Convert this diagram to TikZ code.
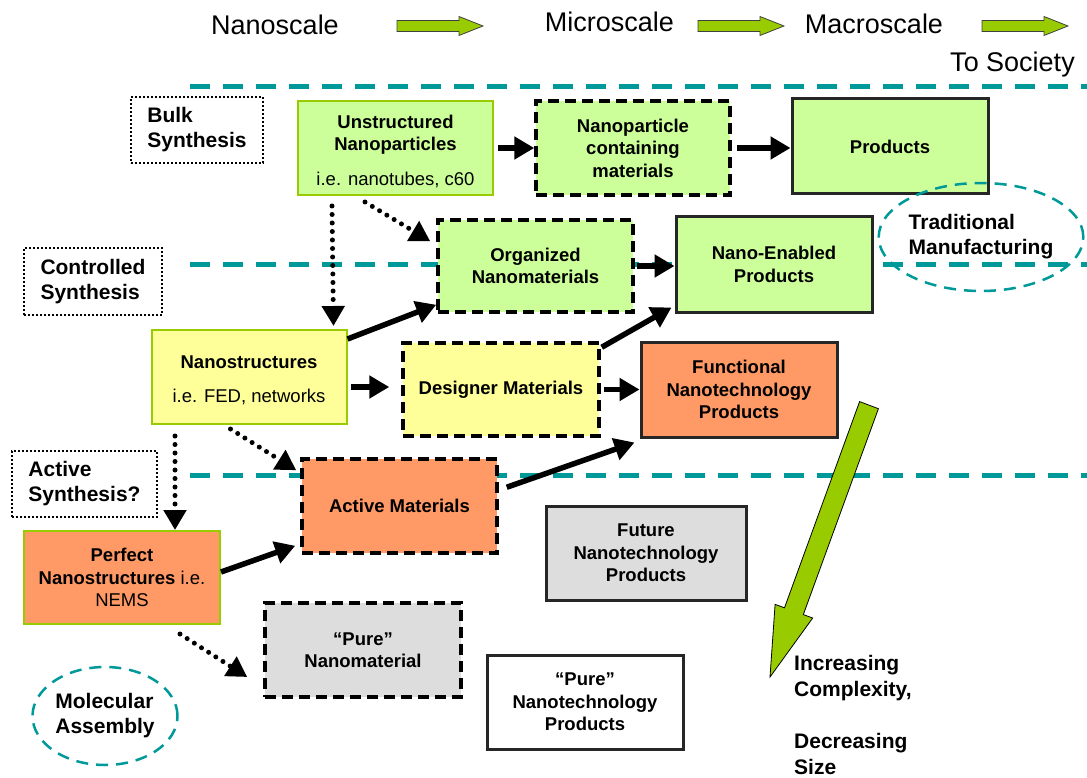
\documentclass[tikz,border=0pt]{standalone}
\usepackage{fontspec}
\setmainfont{Liberation Sans}
\usetikzlibrary{arrows.meta,shapes.geometric,calc}
\definecolor{lgreen}{HTML}{CCFF99}
\definecolor{lyellow}{HTML}{FFFF99}
\definecolor{lorange}{HTML}{FF9966}
\definecolor{lgrey}{HTML}{DDDDDD}
\definecolor{ygreen}{HTML}{99CC00}
\definecolor{tealc}{HTML}{009999}
\begin{document}
\begin{tikzpicture}[x=1pt,y=-1pt,
  boxbase/.style={rectangle, minimum width=195pt, minimum height=94pt, inner sep=2pt, align=center, font=\fontsize{18.5}{22.5}\selectfont\bfseries},
  gbox/.style={boxbase, draw=ygreen, line width=2pt},
  dbox/.style={boxbase, draw=black, line width=3.5pt, dash pattern=on 11pt off 6pt},
  sbox/.style={boxbase, draw=black!85, line width=3pt},
  synbox/.style={rectangle, draw=black, line width=1.6pt, dash pattern=on 1.6pt off 2.4pt, align=left, inner sep=0pt, font=\fontsize{21}{25}\selectfont\bfseries},
  tealsep/.style={draw=tealc, line width=5pt, dash pattern=on 20pt off 13pt},
  tealell/.style={ellipse, draw=tealc, line width=2.5pt, dash pattern=on 12pt off 8pt, align=left, inner sep=0pt, font=\fontsize{21}{25}\selectfont\bfseries},
  solidarrow/.style={line width=5.5pt, -{Triangle[length=20pt,width=22pt]}},
  dotarrow/.style={line width=5pt, line cap=round, dash pattern=on 0pt off 8.5pt, -{Triangle[length=20pt,width=22pt]}},
  scalelbl/.style={anchor=base, inner sep=0pt, font=\fontsize{27}{30}\selectfont},
  blockarrow/.pic={\draw[fill=ygreen, draw=black!75, line width=0.8pt] (0,-5.5) -- (62,-5.5) -- (62,-9.5) -- (86,0) -- (62,9.5) -- (62,5.5) -- (0,5.5) -- cycle;}
]
\useasboundingbox (0,0) rectangle (1087,778);

% scale labels
\node[scalelbl] (nano) at (275,35) {Nanoscale};
\node[scalelbl] (micro) at (609.5,32) {Microscale};
\node[scalelbl] (macro) at (874,33.5) {Macroscale};
\node[scalelbl] (soc) at (1012.5,72) {To Society};
\pic at (397,26) {blockarrow};
\pic at (698,26) {blockarrow};
\pic at (982,26) {blockarrow};

% teal separators
\draw[tealsep] (190,87) -- (1087,87);
\draw[tealsep] (190,264) -- (1087,264);
\draw[tealsep] (190,475) -- (1087,475);

% synthesis labels
\node[synbox, minimum width=132pt, minimum height=66pt] (bulk) at (197,130) {Bulk\\Synthesis};
\node[synbox, minimum width=138pt, minimum height=67pt] (ctrl) at (93,281.5) {Controlled\\Synthesis};
\node[synbox, minimum width=145pt, minimum height=66pt] (actsyn) at (84.5,484) {Active\\Synthesis?};

% boxes
\node[gbox, fill=lgreen] (unstr) at (395.5,148) {\rule{0pt}{20pt}Unstructured\\Nanoparticles\\[12.5pt]{\mdseries i.e. nanotubes, c60}};
\node[dbox, fill=lgreen, minimum width=194pt] (npcm) at (633,148) {Nanoparticle\\containing\\materials};
\node[sbox, fill=lgreen, minimum width=196pt, minimum height=95pt] (prod) at (890,146.5) {Products};
\node[dbox, fill=lgreen, minimum height=92pt] (org) at (535.5,266) {Organized\\Nanomaterials};
\node[sbox, fill=lgreen, minimum width=196pt, minimum height=95pt] (nep) at (774,264.5) {Nano-Enabled\\Products};
\node[gbox, fill=lyellow] (nanos) at (249,377) {\rule{0pt}{20pt}Nanostructures\\[11.5pt]{\mdseries i.e. FED, networks}};
\node[dbox, fill=lyellow, minimum width=196pt, minimum height=93pt] (design) at (501,389.5) {Designer Materials};
\node[sbox, fill=lorange, minimum width=196pt, minimum height=95pt] (func) at (739,389.5) {Functional\\Nanotechnology\\Products};
\node[dbox, fill=lorange] (active) at (399.5,506) {Active Materials};
\node[gbox, fill=lorange, minimum width=196pt, minimum height=93pt] (perfect) at (122,577.5) {Perfect\\Nanostructures {\mdseries i.e.}\\{\mdseries NEMS}};
\node[sbox, fill=lgrey, minimum width=200pt] (future) at (646,553) {Future\\Nanotechnology\\Products};
\node[dbox, fill=lgrey, minimum width=196pt] (purenm) at (363,650) {“Pure”\\Nanomaterial};
\node[sbox, fill=white, minimum width=196pt] (purenp) at (585,702) {“Pure”\\Nanotechnology\\Products};

% ellipses
\node[tealell, minimum width=202pt, minimum height=108pt] (trad) at (981,237) {Traditional\\Manufacturing};
\node[tealell, minimum width=145pt, minimum height=98pt] (molec) at (105,716) {Molecular\\Assembly};

% solid arrows
\draw[solidarrow, shorten <=4pt] (unstr.east) -- (npcm.west);
\draw[solidarrow, shorten <=5pt] (npcm.east) -- (npcm.east -| prod.west);
\draw[solidarrow, shorten <=2pt] (org.east) -- (org.east -| nep.west);
\draw[solidarrow] ([yshift=-10pt]nanos.north east) -- ([yshift=9pt]org.south west);
\draw[solidarrow] ([xshift=3pt,yshift=-10pt]nanos.east) -- ([xshift=-12pt,yshift=-10pt]nanos.east -| design.west);
\draw[solidarrow] ([xshift=1pt,yshift=-6pt]design.north east) -- ([xshift=-3pt,yshift=6pt]nep.south west);
\draw[solidarrow, shorten <=3pt] (design.east) -- (func.west);
\draw[solidarrow] ([xshift=8pt,yshift=-30pt]active.north east) -- ([xshift=-5pt,yshift=-4pt]func.south west);
\draw[solidarrow] ([yshift=5.5pt]perfect.east) -- ([xshift=-5pt,yshift=9pt]active.south west);

% dotted arrows
\draw[dotarrow] ($(unstr.south west)+(35,10)$) -- ($(nanos.north east)+(-14,-3)$);
\draw[dotarrow] ($(unstr.south west)+(68,6)$) -- ($(org.north west)+(-6,23)$);
\draw[dotarrow] ($(nanos.south west)+(24.5,11)$) -- ($(perfect.north west)+(152,0)$);
\draw[dotarrow] ($(nanos.south west)+(80,4)$) -- ($(active.north west)+(-4,13)$);
\draw[dotarrow] ($(perfect.south west)+(157,9)$) -- ($(purenm.west)+(-16,27)$);

% big green arrow
\draw[fill=ygreen, draw=black, line width=0.8pt] (859.6,401.6) -- (784.5,607.8) -- (775.1,604.4) -- (770,677) -- (812.7,618.0) -- (803.3,614.6) -- (878.4,408.7) -- cycle;
\node[anchor=north west, align=left, inner sep=0pt, font=\fontsize{21}{26}\selectfont\bfseries] (cplx) at (794,655) {Increasing\\Complexity,\\[26pt]Decreasing\\Size};
\end{tikzpicture}
\end{document}
